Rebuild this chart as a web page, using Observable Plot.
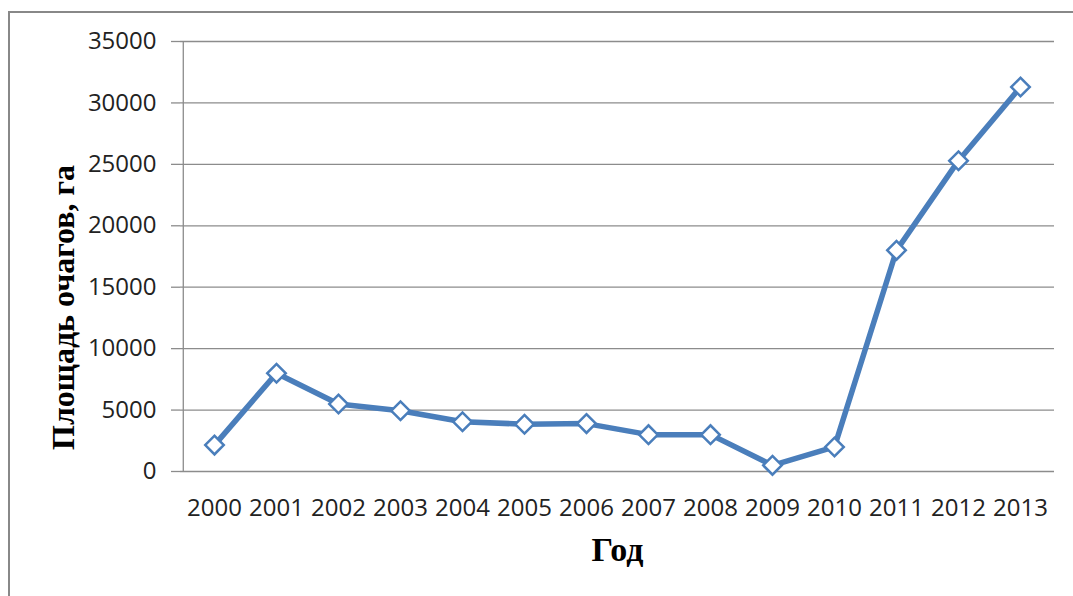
<!DOCTYPE html>
<html>
<head>
<meta charset="utf-8">
<script src="https://cdn.jsdelivr.net/npm/d3@7"></script>
<script src="https://cdn.jsdelivr.net/npm/@observablehq/plot@0.6"></script>
<style>
  html, body { margin: 0; padding: 0; background: #fff; overflow: hidden; width: 1073px; height: 596px; }
  #frame { position: absolute; left: 8px; top: 11px; width: 2000px; height: 2000px; border-left: 2px solid #888; border-top: 2px solid #888; }
  #chart { position: absolute; left: 0; top: 0; }
</style>
</head>
<body>
<div id="frame"></div>
<div id="chart"></div>
<script>
const years = ["2000","2001","2002","2003","2004","2005","2006","2007","2008","2009","2010","2011","2012","2013"];
const area = [2150, 8000, 5500, 4950, 4050, 3850, 3900, 3000, 3000, 500, 2000, 18000, 25300, 31300];
const yTicks = [0, 5000, 10000, 15000, 20000, 25000, 30000, 35000];
const yTitle = "Площадь очагов, га";
const xTitle = "Год";

const data = years.map((y, i) => ({year: y, value: area[i]}));
const blue = "#4A7EBB";
const grid = "#8c8c8c";
const W = 1073, H = 596, ML = 180, MR = 19, MT = 41, MB = 125;
const bw = (W - ML - MR) / years.length;

const chart = Plot.plot({
  width: W,
  height: H,
  marginLeft: ML,
  marginRight: MR,
  marginTop: MT,
  marginBottom: MB,
  style: {background: "transparent", fontFamily: "'Open Sans', sans-serif", fontSize: "24px", color: "#222"},
  x: {type: "band", domain: years, padding: 0, label: null},
  y: {domain: [0, 35000], label: null},
  marks: [
    Plot.gridY(yTicks, {stroke: grid, strokeOpacity: 1, strokeWidth: 1.3}),
    Plot.axisY(yTicks, {tickSize: 9, tickPadding: 15, stroke: grid, strokeWidth: 1.3, fill: "#222", fontSize: 24, label: null, tickFormat: d => String(d)}),
    Plot.ruleX([years[0]], {x: d => d, dx: -bw / 2, stroke: grid, strokeWidth: 1.3, y1: 0, y2: 35000}),
    Plot.axisX({tickSize: 0, tickPadding: 27, fill: "#222", fontSize: 24, label: null}),
    Plot.line(data, {x: "year", y: "value", stroke: blue, strokeWidth: 5.5, strokeLinejoin: "round"}),
    Plot.dot(data, {x: "year", y: "value", symbol: "square", r: 7.4, rotate: 45, fill: "white", stroke: blue, strokeWidth: 2.5}),
    Plot.text([yTitle], {frameAnchor: "left", textAnchor: "middle", dx: -117, dy: 51, rotate: -90, fontFamily: "'Liberation Serif', serif", fontWeight: "bold", fontSize: 32, fill: "#000"}),
    Plot.text([xTitle], {frameAnchor: "bottom", textAnchor: "middle", dy: 89, fontFamily: "'Liberation Serif', serif", fontWeight: "bold", fontSize: 34, fill: "#000"})
  ]
});
document.getElementById("chart").appendChild(chart);
</script>
</body>
</html>
